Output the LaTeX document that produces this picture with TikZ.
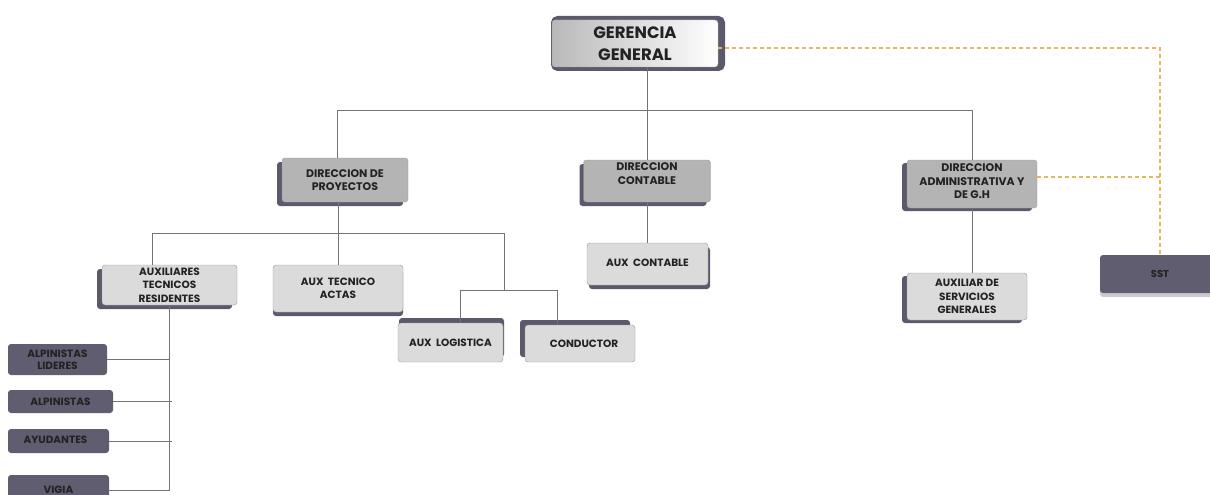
\documentclass[tikz,border=0pt]{standalone}
\usepackage{fontspec}
\setmainfont{Poppins}
\usetikzlibrary{shadows}
\definecolor{sombra}{HTML}{5B596B}
\definecolor{gris}{HTML}{B4B4B4}
\definecolor{claro}{HTML}{DBDBDB}
\definecolor{oscuro}{HTML}{5F5D6F}
\definecolor{naranja}{HTML}{E9B660}
\definecolor{texto}{HTML}{222222}
\tikzset{con sombra/.style 2 args={drop shadow={shadow xshift=#1, shadow yshift=#2, fill=sombra, opacity=1}}}
\tikzstyle{gerente} = [rectangle, rounded corners=3pt, minimum width=166pt, minimum height=47pt, inner ysep=1pt, align=center, draw=gray!70, left color=gray!55, right color=white, text=texto, font=\bfseries\fontsize{16.5}{22}\selectfont, preaction={draw=sombra, fill=sombra, line width=8pt, transform canvas={xshift=3pt}}]
\tikzstyle{direccion} = [rectangle, rounded corners=3pt, inner xsep=2pt, inner ysep=1pt, align=center, draw=gray!80, fill=gris, text=texto, font=\bfseries\fontsize{11}{13.5}\selectfont]
\tikzstyle{auxiliar} = [rectangle, rounded corners=3pt, inner xsep=2pt, inner ysep=1pt, align=center, draw=gray!80, fill=claro, text=texto, font=\bfseries\fontsize{10.5}{13.5}\selectfont]
\tikzstyle{operario} = [rectangle, rounded corners=3pt, inner xsep=2pt, inner ysep=1pt, align=center, fill=oscuro, text=texto, font=\bfseries\fontsize{10.5}{12}\selectfont, minimum height=24pt]
\tikzstyle{linea} = [draw=gray!90!black, line width=0.6pt]
\tikzstyle{apoyo} = [draw=naranja, line width=1.3pt, dash pattern=on 4pt off 3pt]

\begin{document}
\begin{tikzpicture}[x=1pt, y=-1pt]
\useasboundingbox (0,0) rectangle (1210,495);

\node (ger) [gerente] at (635,43.5) {GERENCIA\\GENERAL};

\node (dirP) [direccion, con sombra={-5pt}{-4pt}, minimum width=126pt, minimum height=44pt] at (345,180) {DIRECCION DE\\PROYECTOS};
\node (dirC) [direccion, con sombra={-4pt}{-4pt}, minimum width=127pt, minimum height=42pt] at (647,181) {DIRECCION\\CONTABLE\\[1.5pt]};
\node (dirA) [direccion, con sombra={-5pt}{-3pt}, minimum width=130pt, minimum height=48pt] at (972,184) {DIRECCION\\ADMINISTRATIVA Y\\DE G.H\\[-8pt]};

\node (auxR) [auxiliar, con sombra={-5pt}{-4pt}, minimum width=135pt, minimum height=40pt] at (169.5,285) {AUXILIARES\\TECNICOS\\RESIDENTES};
\node (auxT) [auxiliar, con sombra={0pt}{-4pt}, minimum width=130pt, minimum height=47pt] at (338,288.5) {AUX\ \ TECNICO\\ACTAS};
\node (auxC) [auxiliar, con sombra={2pt}{-4pt}, minimum width=121pt, minimum height=42pt] at (647.5,264) {\raisebox{2pt}{AUX\ \ CONTABLE}};
\node (auxL) [auxiliar, con sombra={1pt}{5pt}, minimum width=105pt, minimum height=39pt] at (450.5,342.5) {AUX\ \ LOGISTICA};
\node (cond) [auxiliar, con sombra={-5pt}{5pt}, minimum width=110pt, minimum height=37pt] at (580,343.5) {\hspace{8pt}CONDUCTOR};
\node (auxS) [auxiliar, con sombra={-5pt}{-3pt}, minimum width=120pt, minimum height=47pt] at (967,296.5) {AUXILIAR DE\\SERVICIOS\\GENERALES};

\node (sst) [operario, drop shadow={shadow xshift=0pt, shadow yshift=-4pt, fill=gray!40, opacity=1}, minimum width=120pt, minimum height=38pt, font=\bfseries\fontsize{10}{12}\selectfont] at (1160,274) {SST};

\node (alpL) [operario, minimum width=99pt, minimum height=31pt] at (57.5,359.5) {ALPINISTAS\\LIDERES};
\node (alp) [operario, minimum width=105pt, minimum height=23pt] at (60.5,401.5) {ALPINISTAS};
\node (ayu) [operario, minimum width=101pt] at (58.5,441) {\raisebox{3pt}{AYUDANTES}\hspace{6pt}};
\node (vig) [operario, minimum width=101pt, minimum height=30pt] at (58.5,490) {VIGIA};

% gerencia -> direcciones
\coordinate (bT1) at (337,110);
\coordinate (bT2) at (972,110);
\draw [linea] (ger.south -| dirC.north) -- (dirC.north);
\draw [linea] (bT1) -- (bT2);
\draw [linea] (bT1) -- (bT1 |- dirP.north);
\draw [linea] (bT2) -- (dirA.north);

% proyectos
\coordinate (bP1) at (152,233);
\coordinate (bP2) at (504,233);
\coordinate (bL1) at (460,290);
\coordinate (bL2) at (557,290);
\draw [linea] (dirP.south -| auxT.north) -- (auxT.north);
\draw [linea] (bP1) -- (bP2);
\draw [linea] (bP1) -- (bP1 |- auxR.north);
\draw [linea] (bP2) -- (bP2 |- bL1);
\draw [linea] (bL1) -- (bL2);
\draw [linea] (bL1) -- (bL1 |- auxL.north);
\draw [linea] (bL2) -- (bL2 |- cond.north);

% contable y administrativa
\draw [linea] (dirC.south) -- (dirC.south |- auxC.north);
\draw [linea] (dirA.south) -- (dirA.south |- auxS.north);

% residentes
\draw [linea] (auxR.south) -- (auxR.south |- vig.east) -- (vig.east);
\draw [linea] (alpL.east) -- (alpL.east -| auxR.south);
\draw [linea] (alp.east) -- ([xshift=2pt]alp.east -| auxR.south);
\draw [linea] (ayu.east) -- ([xshift=2pt]ayu.east -| auxR.south);

% sst
\draw [apoyo] ([yshift=-4.5pt]ger.east) -- ([yshift=-4.5pt]ger.east -| sst.north) -- (sst.north);
\draw [apoyo] ([yshift=7pt]dirA.east) -- ([yshift=7pt]dirA.east -| sst.north);
\end{tikzpicture}
\end{document}
